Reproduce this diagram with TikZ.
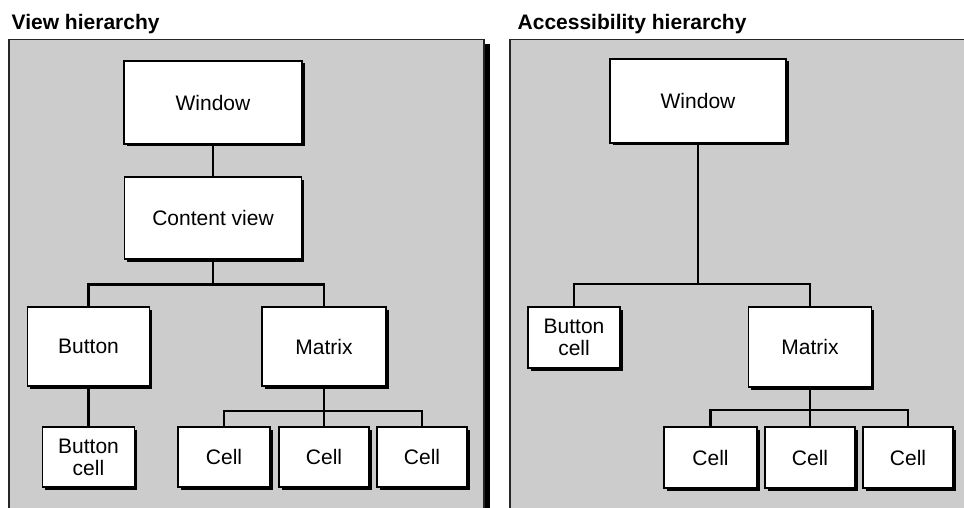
\documentclass[tikz,border=0pt]{standalone}
\usepackage{fontspec}
\setmainfont{Liberation Sans}
\usetikzlibrary{shadows}
\definecolor{panelgray}{HTML}{CCCCCC}
\tikzset{
  box/.style={draw=black, line width=1.4pt, fill=white, inner sep=0pt, align=center,
    font=\fontsize{21}{22}\selectfont,
    drop shadow={shadow xshift=2.5pt, shadow yshift=-2.5pt, fill=black, opacity=1}},
  conn/.style={draw=black, line width=2.6pt, line join=miter},
  panel/.style={fill=panelgray, draw=black!85, line width=1.2pt},
  title/.style={anchor=base west, inner sep=0pt, font=\fontsize{21}{22}\selectfont\bfseries}
}
\begin{document}
\begin{tikzpicture}[x=1pt, y=-1pt]
\clip (0,0) rectangle (964,508);
\fill[white] (0,0) rectangle (964,508);
% panels
\fill[black] (484,44) rectangle (489.5,520);
\draw[panel] (9,39.5) rectangle (484,530);
\draw[panel] (510,39.5) rectangle (990,530);
% titles
\node[title] (t1) at (11.5,30) {View hierarchy};
\node[title] (t2) at (517.5,30) {Accessibility hierarchy};

% left hierarchy
\node[box, minimum width=178pt, minimum height=83pt] (lw) at (213,102.5) {Window};
\node[box, minimum width=177pt, minimum height=82pt] (lc) at (213,218) {Content view};
\node[box, minimum width=122pt, minimum height=79pt] (lb) at (88.5,346.5) {Button};
\node[box, minimum width=124pt, minimum height=79pt] (lm) at (324,346.5) {Matrix};
\node[box, minimum width=92pt, minimum height=60pt] (lbc) at (88.5,457) {Button\\cell};
\node[box, minimum width=92pt, minimum height=60pt] (lc1) at (224,457) {Cell};
\node[box, minimum width=90pt, minimum height=60pt] (lc2) at (324,457) {Cell};
\node[box, minimum width=90pt, minimum height=60pt] (lc3) at (422,457) {Cell};
\coordinate (lbus) at (213,284.5);
\coordinate (lcb) at (324,411);
\draw[conn] (lw) -- (lc);
\draw[conn] (lc) -- (lbus);
\draw[conn] (lb.north) |- (lbus) -| (lm.north);
\draw[conn] (lb) -- (lbc);
\draw[conn] (lm) -- (lcb);
\draw[conn] (lc1.north) |- (lcb) -| (lc3.north);
\draw[conn] (lcb) -- (lc2);

% right hierarchy
\node[box, minimum width=176pt, minimum height=84pt] (rw) at (698,101) {Window};
\node[box, minimum width=92pt, minimum height=61pt] (rbc) at (574,337.5) {Button\\cell};
\node[box, minimum width=123pt, minimum height=80pt] (rm) at (810,347) {Matrix};
\node[box, minimum width=93pt, minimum height=61pt] (rc1) at (710.5,457.5) {Cell};
\node[box, minimum width=90pt, minimum height=61pt] (rc2) at (810,457.5) {Cell};
\node[box, minimum width=90pt, minimum height=61pt] (rc3) at (908,457.5) {Cell};
\coordinate (rbus) at (698,284);
\coordinate (rcb) at (810,410);
\draw[conn] (rw) -- (rbus);
\draw[conn] (rbc.north) |- (rbus) -| (rm.north);
\draw[conn] (rm) -- (rcb);
\draw[conn] (rc1.north) |- (rcb) -| (rc3.north);
\draw[conn] (rcb) -- (rc2);
\end{tikzpicture}
\end{document}
